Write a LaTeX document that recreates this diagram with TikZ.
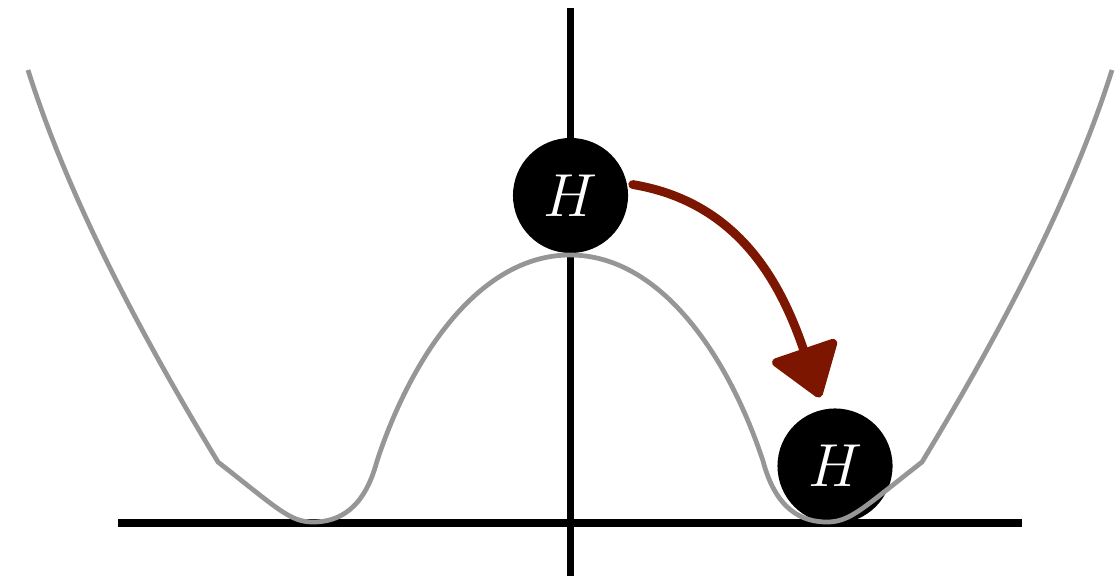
\documentclass[tikz,border=0pt]{standalone}
\usetikzlibrary{arrows.meta}
\definecolor{curvegray}{RGB}{150,150,150}
\definecolor{arrowred}{RGB}{125,22,0}
\tikzset{
  axisline/.style={line width=2pt, black},
  potential/.style={line width=1.35pt, curvegray, line join=round},
  ball/.style={circle, fill=black, minimum size=1.15cm, inner sep=0pt, outer sep=0pt,
    text=white, font=\fontsize{16.5}{18}\selectfont},
  fallarrow/.style={line width=2.5pt, arrowred, line cap=round,
    -{Triangle[length=0.55cm, width=0.74cm, round]}}
}
\begin{document}
\begin{tikzpicture}[x=0.01cm, y=-0.01cm]
\useasboundingbox (0,0) rectangle (1119,576);
% axes
\coordinate (xl) at (118,523);
\coordinate (xr) at (1022,523);
\coordinate (yt) at (570.5,8);
\coordinate (yb) at (570.5,576);
\draw[axisline] (xl) -- (xr);
\draw[axisline] (yt) -- (yb);
% balls
\node[ball] (h1) at (570.5,195.5) {$H$};
\node[ball] (h2) at (835,466) {$H$};
% potential curve
\draw[potential] (28,70) .. controls (66,190) and (132,320) .. (218,462)
  .. controls (278,509) and (290,522) .. (313,522)
  .. controls (338,522) and (364,510) .. (377,461)
  .. controls (412,355) and (480,255) .. (570,255)
  .. controls (660,255) and (728,355) .. (763,461)
  .. controls (776,510) and (802,522) .. (827,522)
  .. controls (850,522) and (862,509) .. (922,462)
  .. controls (1008,320) and (1074,190) .. (1112,70);
% arrow
\draw[fallarrow, shorten <=0.06cm, shorten >=0.127cm]
  (h1.12) .. controls +(114,19) and +(-42,-123) .. (h2.101);
\end{tikzpicture}
\end{document}
